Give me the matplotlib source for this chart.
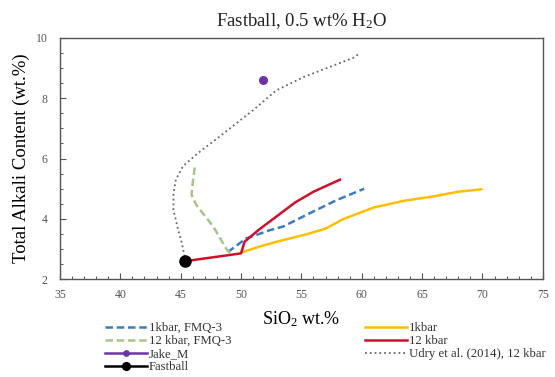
import matplotlib
matplotlib.use("Agg")
import matplotlib.pyplot as plt
from matplotlib.ticker import MultipleLocator

plt.rcParams['font.family'] = ['Liberation Serif', 'DejaVu Serif']
plt.rcParams['mathtext.fontset'] = 'custom'
plt.rcParams['mathtext.rm'] = 'Liberation Serif'
plt.rcParams['mathtext.it'] = 'Liberation Serif:italic'

# starting composition and comparison sample
fastball_x = [45.35]
fastball_y = [2.6]
jake_x = [51.8]
jake_y = [8.6]

# liquid lines of descent
kbar1_fmq_x = [48.9, 50.4, 52.4, 53.5, 55.5, 57.9, 60.2]
kbar1_fmq_y = [2.9, 3.35, 3.63, 3.75, 4.15, 4.62, 5.0]

kbar12_fmq_x = [49.1, 48.8, 47.7, 46.3, 45.9, 46.0, 46.2]
kbar12_fmq_y = [2.88, 3.0, 3.75, 4.46, 4.8, 5.2, 5.8]

kbar1_x = [50.1, 51.5, 53.0, 55.5, 57.0, 58.5, 61.0, 63.5, 66.0, 68.0, 69.9]
kbar1_y = [2.9, 3.08, 3.25, 3.5, 3.68, 4.0, 4.38, 4.6, 4.75, 4.9, 4.98]

kbar12_x = [45.35, 50.0, 50.3, 51.5, 53.0, 54.5, 56.0, 57.2, 58.2]
kbar12_y = [2.6, 2.86, 3.25, 3.65, 4.1, 4.55, 4.9, 5.12, 5.3]

udry_x = [45.4, 45.1, 44.8, 44.4, 44.4, 44.6, 45.2, 46.5, 48.2, 51.0, 52.9, 55.2, 57.4, 59.4, 59.7]
udry_y = [2.6, 3.2, 3.63, 4.3, 4.8, 5.3, 5.75, 6.2, 6.72, 7.6, 8.25, 8.7, 9.04, 9.35, 9.45]

fig = plt.figure(figsize=(5.55, 3.77), dpi=100)
ax = fig.add_axes([0.108, 0.259, 0.870, 0.641])

l_blue, = ax.plot(kbar1_fmq_x, kbar1_fmq_y, '--', color='#3b7dc0', lw=1.8, dashes=(3, 1.5))
l_green, = ax.plot(kbar12_fmq_x, kbar12_fmq_y, '--', color='#a8c48a', lw=1.8, dashes=(3, 1.5))
l_yellow, = ax.plot(kbar1_x, kbar1_y, '-', color='#ffbf00', lw=1.8)
l_red, = ax.plot(kbar12_x, kbar12_y, '-', color='#d0102a', lw=1.8)
l_udry, = ax.plot(udry_x, udry_y, ':', color='#6a6a6a', lw=1.3)
l_jake, = ax.plot(jake_x, jake_y, 'o', color='#6a35a8', ms=5.5, ls='-', lw=1.8)
l_fast, = ax.plot(fastball_x, fastball_y, 'o', color='black', ms=8, ls='-', lw=1.8)

ax.set_xlim(35, 75)
ax.set_ylim(2, 10)
ax.xaxis.set_major_locator(MultipleLocator(5))
ax.xaxis.set_minor_locator(MultipleLocator(1))
ax.yaxis.set_major_locator(MultipleLocator(2))
ax.yaxis.set_minor_locator(MultipleLocator(0.5))
ax.tick_params(which='both', direction='in', colors='#555555', labelcolor='#555555',
               labelsize=8.5, top=False, right=False)
ax.tick_params(which='major', length=4, width=0.8)
ax.tick_params(which='minor', length=2.5, width=0.7)
ax.tick_params(axis='x', pad=7)
ax.tick_params(axis='y', pad=9)
for sp in ax.spines.values():
    sp.set_color('#555555')
    sp.set_linewidth(1.0)

ax.set_title('Fastball, 0.5 wt% H$_2$O', fontsize=13.5, color='#222222', pad=8)
ax.set_xlabel('SiO$_2$ wt.%', fontsize=13, labelpad=6)
ax.set_ylabel('Total Alkali Content (wt.%)', fontsize=13.5, labelpad=4)

leg_kw = dict(frameon=False, fontsize=9.2, handlelength=3.3, handletextpad=0.15,
              labelspacing=0.08, borderaxespad=0, borderpad=0, markerscale=0.7)
leg1 = fig.legend([l_blue, l_green, l_jake, l_fast],
                  ['1kbar, FMQ-3', '12 kbar, FMQ-3', 'Jake_M', 'Fastball'],
                  loc='upper left', bbox_to_anchor=(105 / 555, 1 - 322 / 377), **leg_kw)
leg2 = fig.legend([l_yellow, l_red, l_udry],
                  ['1kbar', '12 kbar', 'Udry et al. (2014), 12 kbar'],
                  loc='upper left', bbox_to_anchor=(365 / 555, 1 - 322 / 377), **leg_kw)
for t in leg1.get_texts() + leg2.get_texts():
    t.set_color('#333333')

fig.savefig('out.png', dpi=100)
